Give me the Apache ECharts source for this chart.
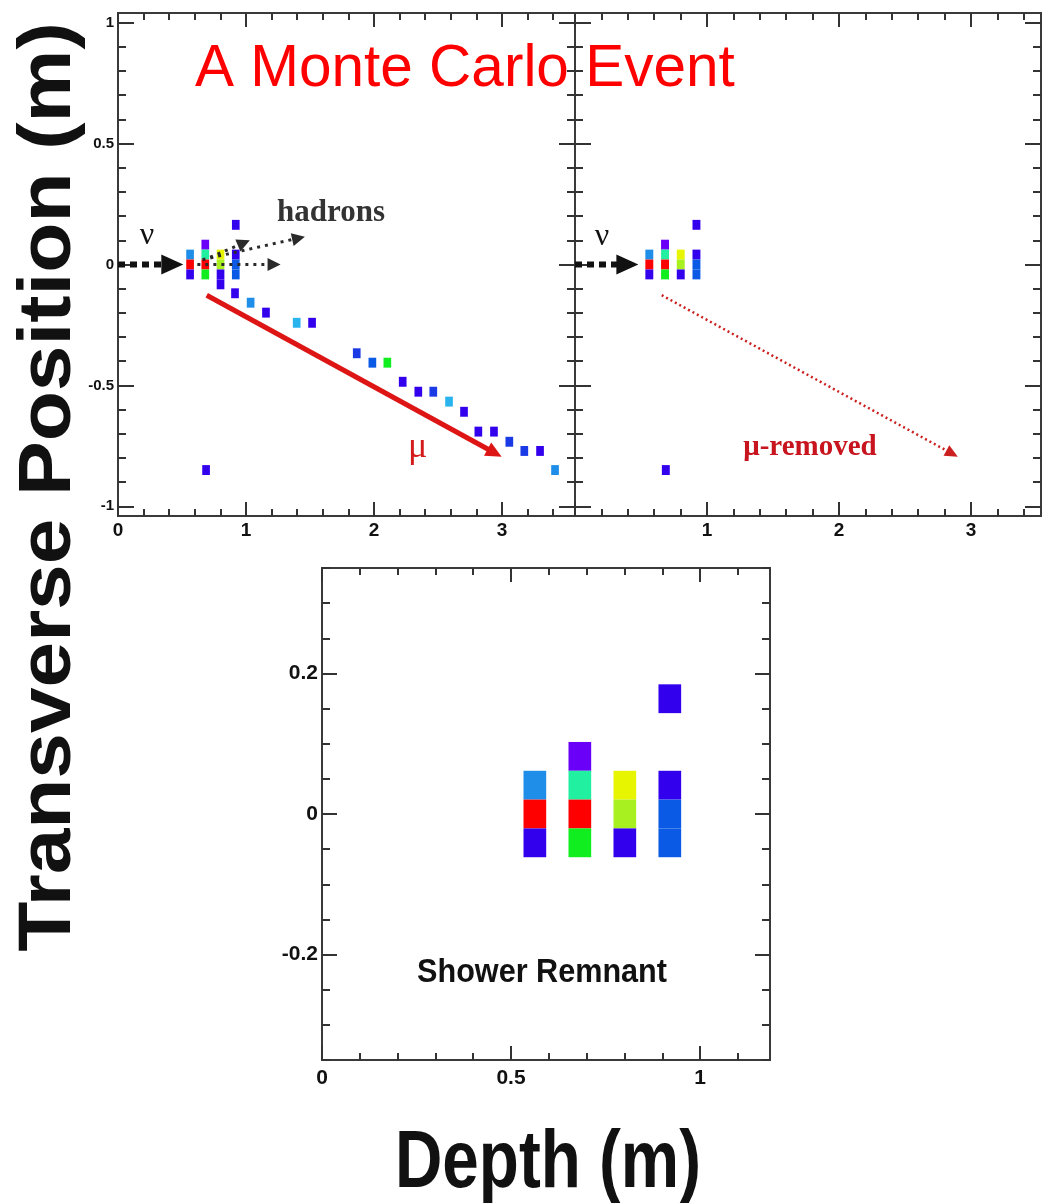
<!DOCTYPE html>
<html>
<head>
<meta charset="utf-8">
<script src="https://cdn.jsdelivr.net/npm/echarts@6/dist/echarts.min.js"></script>
<style>
html,body{margin:0;padding:0;background:#ffffff;}
#chart{width:1043px;height:1203px;}
</style>
</head>
<body>
<div id="chart"></div>
<script>
// ---------------- DATA ----------------
// hits: [depth (m), transverse position (m), energy level 1..11]
const showerHits = [
  [0.563, 0.041, 5], [0.563, 0.000, 11], [0.563, -0.041, 2],
  [0.682, 0.082, 1], [0.682, 0.041, 7], [0.682, 0.000, 11], [0.682, -0.041, 8],
  [0.801, 0.041, 10], [0.801, 0.000, 9], [0.801, -0.041, 2],
  [0.920, 0.164, 2], [0.920, 0.041, 2], [0.920, 0.000, 4], [0.920, -0.041, 4]
];
const isolatedHits = [[0.688, -0.850, 2]];
const muonHits = [
  [0.801, -0.082, 2], [0.914, -0.119, 2], [1.036, -0.158, 5], [1.156, -0.199, 2],
  [1.396, -0.241, 6], [1.516, -0.241, 2], [1.865, -0.367, 3], [1.987, -0.406, 4],
  [2.104, -0.406, 8], [2.224, -0.485, 2], [2.346, -0.526, 2], [2.463, -0.526, 3],
  [2.586, -0.567, 6], [2.703, -0.609, 2], [2.815, -0.691, 2], [2.937, -0.691, 2],
  [3.057, -0.733, 3], [3.174, -0.771, 3], [3.297, -0.771, 2], [3.414, -0.850, 5]
];
// energy colour palette (low -> high)
const palette = ['#6a00f8', '#3300ee', '#1a3ae6', '#0a5ae6', '#1e8ee8', '#2ab4ee',
                 '#20f0a0', '#10ee20', '#a8f020', '#e8f500', '#ff0000'];

// arrows: [[x0,y0],[x1,y1]] (tip at second point)
const nuArrowTop = [[0.0, 0.0], [0.51, 0.0]];
const nuArrowRight = [[0.0, 0.0], [0.48, 0.0]];
const hadronArrows = [
  [[0.62, 0.0], [1.27, 0.0]],
  [[0.66, 0.02], [1.46, 0.115]],
  [[0.72, 0.03], [1.03, 0.10]]
];
const muArrow = [[0.693, -0.127], [2.997, -0.795]];
const muRemovedArrow = [[0.657, -0.127], [2.90, -0.795]];

// annotations: [x, y, text]
const notesP1 = [[0.227, 0.12, 'ν'], [1.664, 0.213, 'hadrons'], [2.34, -0.755, 'μ']];
const notesP2 = [[0.205, 0.114, 'ν'], [1.78, -0.755, 'μ-removed']];
const notesP3 = [[0.582, -0.226, 'Shower Remnant']];

// ticks
const p1XMajor = [0, 1, 2, 3];
const p1XLabels = [0, 1, 2, 3];
const p2XLabels = [1, 2, 3];
const p1YMajor = [-1, -0.5, 0, 0.5, 1];
const p3XMajor = [0, 0.5, 1];
const p3YMajor = [-0.2, 0, 0.2];

const titleText = 'A Monte Carlo Event';
const yTitle = 'Transverse Position (m)';
const xTitle = 'Depth (m)';

// ---------------- HELPERS ----------------
function steps(a, b, s) {
  const out = [];
  const n0 = Math.ceil(a / s - 1e-9), n1 = Math.floor(b / s + 1e-9);
  for (let k = n0; k <= n1; k++) out.push(+(k * s).toFixed(4));
  return out;
}
const CELL_W = 0.06, CELL_H = 0.041;
const TICK_COLOR = '#333';
const LABEL_FONT = 'Liberation Sans, Arial, sans-serif';

const xAxes = [], yAxes = [];
function addFrame(g, xr, yr, o) {
  const base = { type: 'value', gridIndex: g, splitLine: { show: false }, axisLine: { show: false, onZero: false } };
  const xi = xAxes.length, yi = yAxes.length;
  const mk = (pos, mn, mx, vals, len, labels, lab) => Object.assign({}, base, {
    position: pos, min: mn, max: mx,
    axisTick: { show: true, inside: true, length: len, customValues: vals, lineStyle: { color: TICK_COLOR, width: 2 } },
    axisLabel: labels ? Object.assign({ show: true, customValues: labels, color: '#111', fontWeight: 'bold', fontFamily: LABEL_FONT }, lab) : { show: false }
  });
  xAxes.push(mk('bottom', xr[0], xr[1], o.xMaj, o.xMajLen, o.xLabels, o.xLab));
  xAxes.push(mk('bottom', xr[0], xr[1], steps(xr[0], xr[1], o.xMinStep), o.xMinLen, null));
  xAxes.push(mk('top', xr[0], xr[1], o.xMaj, o.xMajLen, null));
  xAxes.push(mk('top', xr[0], xr[1], steps(xr[0], xr[1], o.xMinStep), o.xMinLen, null));
  yAxes.push(mk('left', yr[0], yr[1], o.yMaj, o.yMajLen, o.yLabels, o.yLab));
  yAxes.push(mk('left', yr[0], yr[1], steps(yr[0], yr[1], o.yMinStep), o.yMinLen, null));
  yAxes.push(mk('right', yr[0], yr[1], o.yMaj, o.yMajLen, null));
  yAxes.push(mk('right', yr[0], yr[1], steps(yr[0], yr[1], o.yMinStep), o.yMinLen, null));
  return { x: xi, y: yi };
}

const f1 = addFrame(0, [0, 3.57], [-1.04, 1.04], {
  xMaj: p1XMajor, xMajLen: 14, xMinStep: 0.2, xMinLen: 7, xLabels: p1XLabels, xLab: { fontSize: 19, margin: 5 },
  yMaj: p1YMajor, yMajLen: 16, yMinStep: 0.1, yMinLen: 8, yLabels: p1YMajor, yLab: { fontSize: 15, margin: 4 }
});
const f2 = addFrame(1, [0, 3.53], [-1.04, 1.04], {
  xMaj: p1XMajor, xMajLen: 14, xMinStep: 0.2, xMinLen: 7, xLabels: p2XLabels, xLab: { fontSize: 19, margin: 5 },
  yMaj: p1YMajor, yMajLen: 16, yMinStep: 0.1, yMinLen: 8, yLabels: null
});
const f3 = addFrame(2, [0, 1.185], [-0.35, 0.35], {
  xMaj: p3XMajor, xMajLen: 14, xMinStep: 0.1, xMinLen: 7, xLabels: p3XMajor, xLab: { fontSize: 21, margin: 8 },
  yMaj: p3YMajor, yMajLen: 15, yMinStep: 0.05, yMinLen: 8, yLabels: p3YMajor, yLab: { fontSize: 21, margin: 4 }
});

function cellSeries(f, data) {
  return {
    type: 'custom', xAxisIndex: f.x, yAxisIndex: f.y, data: data, encode: { x: 0, y: 1 }, z: 3,
    renderItem: function (params, api) {
      const x = api.value(0), y = api.value(1);
      const p0 = api.coord([x - CELL_W / 2, y + CELL_H / 2]);
      const p1 = api.coord([x + CELL_W / 2, y - CELL_H / 2]);
      const cs = params.coordSys;
      const r = echarts.graphic.clipRectByRect(
        { x: p0[0], y: p0[1], width: p1[0] - p0[0], height: p1[1] - p0[1] },
        { x: cs.x, y: cs.y, width: cs.width, height: cs.height });
      if (!r) return null;
      return { type: 'rect', shape: r, style: { fill: api.visual('color') } };
    }
  };
}

function arrowSeries(f, arrows, st) {
  return {
    type: 'custom', xAxisIndex: f.x, yAxisIndex: f.y, z: 5,
    data: arrows.map(a => [a[0][0], a[0][1], a[1][0], a[1][1]]),
    encode: { x: [0, 2], y: [1, 3] },
    renderItem: function (params, api) {
      const p0 = api.coord([api.value(0), api.value(1)]);
      const p1 = api.coord([api.value(2), api.value(3)]);
      const dx = p1[0] - p0[0], dy = p1[1] - p0[1];
      const L = Math.hypot(dx, dy), ux = dx / L, uy = dy / L;
      const bx = p1[0] - ux * st.headLen, by = p1[1] - uy * st.headLen;
      const hw = st.headW / 2;
      return {
        type: 'group', children: [
          { type: 'line', shape: { x1: p0[0], y1: p0[1], x2: bx + ux, y2: by + uy },
            style: { stroke: st.color, lineWidth: st.width, lineDash: st.dash || null, lineCap: 'butt' } },
          { type: 'polygon', shape: { points: [[p1[0], p1[1]], [bx - uy * hw, by + ux * hw], [bx + uy * hw, by - ux * hw]] },
            style: { fill: st.color } }
        ]
      };
    }
  };
}

const noteStyles = {
  'ν': { font: '32px Liberation Serif, serif', fill: '#111' },
  'hadrons': { font: 'bold 31px Liberation Serif, serif', fill: '#333' },
  'μ': { font: '36px Liberation Serif, serif', fill: '#d41a1a' },
  'μ-removed': { font: 'bold 29px Liberation Serif, serif', fill: '#c8141e' },
  'Shower Remnant': { font: 'bold 34px Liberation Sans, Arial, sans-serif', fill: '#111', scaleX: 0.9 }
};
function noteSeries(f, notes) {
  return {
    type: 'custom', xAxisIndex: f.x, yAxisIndex: f.y, z: 6,
    data: notes.map(n => [n[0], n[1]]), encode: { x: 0, y: 1 },
    renderItem: function (params, api) {
      const n = notes[params.dataIndex];
      const s = noteStyles[n[2]];
      const p = api.coord([api.value(0), api.value(1)]);
      return {
        type: 'text', x: p[0], y: p[1], scaleX: s.scaleX || 1,
        style: { text: n[2], font: s.font, fill: s.fill, align: 'center', verticalAlign: 'middle' }
      };
    }
  };
}

const series = [
  cellSeries(f1, showerHits), cellSeries(f1, isolatedHits), cellSeries(f1, muonHits),
  cellSeries(f2, showerHits), cellSeries(f2, isolatedHits),
  cellSeries(f3, showerHits),
  arrowSeries(f1, [nuArrowTop], { color: '#111', width: 6, dash: [7, 5], headLen: 22, headW: 20 }),
  arrowSeries(f2, [nuArrowRight], { color: '#111', width: 6, dash: [7, 5], headLen: 22, headW: 20 }),
  arrowSeries(f1, hadronArrows, { color: '#2a2a2a', width: 3, dash: [3, 5], headLen: 13, headW: 13 }),
  arrowSeries(f1, [muArrow], { color: '#dd1515', width: 5, headLen: 16, headW: 15 }),
  arrowSeries(f2, [muRemovedArrow], { color: '#cc2020', width: 2.5, dash: [2, 3], headLen: 13, headW: 12 }),
  noteSeries(f1, notesP1), noteSeries(f2, notesP2), noteSeries(f3, notesP3)
];

const option = {
  backgroundColor: '#ffffff',
  animation: false,
  grid: [
    { left: 118, top: 13, width: 457, height: 503, show: true, borderColor: '#3a3a3a', borderWidth: 2, outerBoundsMode: 'none' },
    { left: 575, top: 13, width: 466, height: 503, show: true, borderColor: '#3a3a3a', borderWidth: 2, outerBoundsMode: 'none' },
    { left: 322, top: 568, width: 448, height: 492, show: true, borderColor: '#3a3a3a', borderWidth: 2, outerBoundsMode: 'none' }
  ],
  xAxis: xAxes,
  yAxis: yAxes,
  visualMap: {
    type: 'continuous', show: false, dimension: 2, min: 1, max: 11,
    seriesIndex: [0, 1, 2, 3, 4, 5], inRange: { color: palette }
  },
  graphic: [
    { type: 'text', left: 195, top: 40, z: 10,
      style: { text: titleText, font: '58.5px Liberation Sans, Arial, sans-serif', fill: '#ff0000' } },
    { type: 'group', x: 50, y: 487, scaleX: 0.9, z: 10,
      children: [
        { type: 'text', x: 0, y: 0, rotation: Math.PI / 2,
          style: { text: yTitle, font: 'bold 82px Liberation Sans, Arial, sans-serif', fill: '#111', align: 'center', verticalAlign: 'middle' } }
      ] },
    { type: 'text', x: 548, y: 1164, scaleX: 0.8, z: 10,
      style: { text: xTitle, font: 'bold 82px Liberation Sans, Arial, sans-serif', fill: '#111', align: 'center', verticalAlign: 'middle' } }
  ],
  series: series
};

const chart = echarts.init(document.getElementById('chart'), null, { renderer: 'canvas' });
chart.setOption(option);
</script>
</body>
</html>
